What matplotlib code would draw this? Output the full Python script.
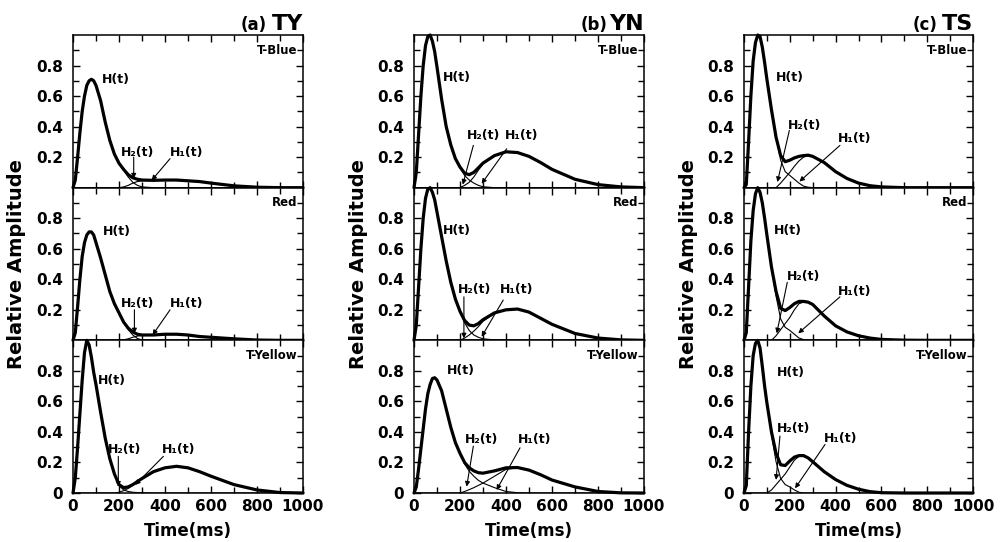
import matplotlib
matplotlib.use("Agg")
import matplotlib.pyplot as plt
import numpy as np
from matplotlib.ticker import FixedLocator, FuncFormatter, MultipleLocator

# sample times (ms)
t_ms = [0, 10, 20, 30, 40, 50, 60, 70, 80, 90, 100,
        120, 140, 160, 180, 200,
        220, 240, 260, 280, 300,
        350, 400, 450, 500, 550, 600,
        700, 800, 900, 1000]

# H2 = early component, H1 = late component, H(t) = H1(t) + H2(t)
# (a) TY
ty_blue_h2 = [0, .05, .20, .36, .50, .60, .67, .70, .71, .70, .67,
              .57, .43, .31, .22, .16,
              .115, .07, .035, .015, .005,
              0, 0, 0, 0, 0, 0,
              0, 0, 0, 0]
ty_blue_h1 = [0, 0, 0, 0, 0, 0, 0, 0, 0, 0, 0,
              0, 0, 0, 0, 0,
              .005, .015, .03, .04, .045,
              .048, .05, .05, .045, .04, .03,
              .012, .003, 0, 0]
ty_red_h2 = [0, .05, .22, .40, .55, .64, .69, .71, .71, .69, .64,
             .54, .43, .32, .24, .18,
             .117, .07, .035, .012, .003,
             0, 0, 0, 0, 0, 0,
             0, 0, 0, 0]
ty_red_h1 = [0, 0, 0, 0, 0, 0, 0, 0, 0, 0, 0,
             0, 0, 0, 0, 0,
             .003, .01, .02, .028, .032,
             .035, .04, .04, .035, .025, .02,
             .01, .002, 0, 0]
ty_yellow_h2 = [0, .10, .30, .52, .74, .92, 1.0, .97, .89, .79, .71,
                .53, .36, .225, .125, .05,
                .02, .01, .005, .003, .002,
                0, 0, 0, 0, 0, 0,
                0, 0, 0, 0]
ty_yellow_h1 = [0, 0, 0, 0, 0, 0, 0, 0, 0, 0, 0,
                0, 0, 0, 0, .005,
                .015, .03, .05, .072, .093,
                .14, .165, .175, .165, .14, .11,
                .055, .02, .003, 0]

# (b) YN
yn_blue_h2 = [0, .10, .35, .60, .80, .93, .99, 1.0, .96, .89, .79,
              .58, .40, .28, .19, .135,
              .08, .05, .03, .015, .006,
              0, 0, 0, 0, 0, 0,
              0, 0, 0, 0]
yn_blue_h1 = [0, 0, 0, 0, 0, 0, 0, 0, 0, 0, 0,
              0, 0, 0, 0, 0,
              .015, .035, .07, .115, .155,
              .21, .235, .23, .205, .165, .12,
              .055, .02, .005, 0]
yn_red_h2 = [0, .10, .35, .60, .80, .93, .99, 1.0, .97, .92, .84,
             .68, .52, .38, .27, .19,
             .115, .065, .035, .02, .01,
             .003, 0, 0, 0, 0, 0,
             0, 0, 0, 0]
yn_red_h1 = [0, 0, 0, 0, 0, 0, 0, 0, 0, 0, 0,
             0, 0, 0, 0, 0,
             .015, .035, .06, .09, .125,
             .177, .20, .205, .185, .145, .105,
             .045, .015, .003, 0]
yn_yellow_h2 = [0, .04, .16, .29, .42, .55, .65, .71, .75, .755, .74,
                .67, .55, .43, .33, .26,
                .19, .143, .11, .083, .065,
                .035, .01, .002, 0, 0, 0,
                0, 0, 0, 0]
yn_yellow_h1 = [0, 0, 0, 0, 0, 0, 0, 0, 0, 0, 0,
                0, 0, 0, 0, 0,
                .01, .022, .035, .05, .065,
                .11, .155, .165, .15, .12, .085,
                .04, .01, .001, 0]

# (c) TS
ts_blue_h2 = [0, .02, .30, .60, .83, .95, 1.0, .99, .92, .82, .71,
              .51, .33, .18, .105, .08,
              .055, .03, .01, .003, 0,
              0, 0, 0, 0, 0, 0,
              0, 0, 0, 0]
ts_blue_h1 = [0, 0, 0, 0, 0, 0, 0, 0, 0, 0, 0,
              0, 0, .03, .065, .10,
              .14, .175, .20, .21, .205,
              .165, .105, .06, .03, .013, .005,
              0, 0, 0, 0]
ts_red_h2 = [0, .05, .35, .65, .85, .96, 1.0, .97, .90, .80, .69,
             .48, .29, .14, .085, .065,
             .04, .015, .005, 0, 0,
             0, 0, 0, 0, 0, 0,
             0, 0, 0, 0]
ts_red_h1 = [0, 0, 0, 0, 0, 0, 0, 0, 0, 0, 0,
             0, .03, .07, .11, .15,
             .20, .24, .25, .25, .235,
             .16, .095, .055, .03, .015, .006,
             .001, 0, 0, 0]
ts_yellow_h2 = [0, .05, .40, .70, .90, .98, 1.0, .95, .83, .70, .59,
                .38, .205, .095, .055, .04,
                .02, .005, 0, 0, 0,
                0, 0, 0, 0, 0, 0,
                0, 0, 0, 0]
ts_yellow_h1 = [0, 0, 0, 0, 0, 0, 0, 0, 0, 0, 0,
                .02, .055, .09, .125, .17,
                .215, .24, .245, .23, .205,
                .14, .088, .05, .025, .009, .002,
                0, 0, 0, 0]

col_letters = ["(a)", "(b)", "(c)"]
col_names = ["TY", "YN", "TS"]
row_names = ["T-Blue", "Red", "T-Yellow"]

curves = [
    [(ty_blue_h2, ty_blue_h1), (ty_red_h2, ty_red_h1), (ty_yellow_h2, ty_yellow_h1)],
    [(yn_blue_h2, yn_blue_h1), (yn_red_h2, yn_red_h1), (yn_yellow_h2, yn_yellow_h1)],
    [(ts_blue_h2, ts_blue_h1), (ts_red_h2, ts_red_h1), (ts_yellow_h2, ts_yellow_h1)],
]

# label placement: H label (left, center), H2 label, H2 arrow (tail, tip), H1 label, H1 arrow
annot = [
    [
        ((125, .71), (280, .233), ((264, .20), (264, .06)), (494, .233), ((422, .19), (342, .048))),
        ((132, .71), (281, .24), ((267, .20), (267, .046)), (494, .24), ((422, .20), (346, .035))),
        ((110, .74), (226, .285), ((197, .24), (197, .042)), (458, .285), ((393, .24), (270, .053))),
    ],
    [
        ((125, .72), (301, .34), ((258, .277), (212, .02)), (468, .34), ((403, .255), (294, .026))),
        ((125, .72), (265, .33), ((217, .285), (217, .013)), (446, .33), ((388, .264), (294, .024))),
        ((145, .80), (294, .35), ((258, .307), (229, .042)), (526, .35), ((461, .296), (359, .02))),
    ],
    [
        ((140, .72), (266, .41), ((198, .375), (146, .037)), (485, .325), ((419, .277), (242, .04))),
        ((132, .72), (259, .416), ((189, .38), (143, .046)), (485, .322), ((419, .285), (237, .046))),
        ((143, .79), (218, .42), ((157, .373), (140, .086)), (422, .36), ((354, .318), (223, .031))),
    ],
]

W, H = 1001, 542
COL_LEFT = [73, 414, 744]
COL_WIDTH = [230, 230, 229]
TOP = 35
ROW_H = 152.67


def fmt_y(v, _pos):
    return "0" if abs(v) < 1e-9 else f"{v:.1f}"


def add_panel(fig, col, row):
    left = COL_LEFT[col] / W
    bottom = 1 - (TOP + (row + 1) * ROW_H) / H
    ax = fig.add_axes([left, bottom, COL_WIDTH[col] / W, ROW_H / H])

    h2, h1 = curves[col][row]
    t = np.array(t_ms, dtype=float)
    h2 = np.array(h2)
    h1 = np.array(h1)
    ax.plot(t, h2, color="black", lw=0.8, zorder=2)
    ax.plot(t, h1, color="black", lw=0.8, zorder=2)
    ax.plot(t, h1 + h2, color="black", lw=2.3, zorder=3, clip_on=False,
            solid_joinstyle="round", solid_capstyle="round")

    ax.set_xlim(0, 1000)
    ax.set_ylim(0, 1.0)
    ax.xaxis.set_major_locator(MultipleLocator(200))
    ax.xaxis.set_minor_locator(MultipleLocator(100))
    yt = [0.2, 0.4, 0.6, 0.8] if row < 2 else [0, 0.2, 0.4, 0.6, 0.8]
    ax.yaxis.set_major_locator(FixedLocator(yt))
    ax.yaxis.set_minor_locator(FixedLocator([0.1, 0.3, 0.5, 0.7, 0.9]))
    ax.yaxis.set_major_formatter(FuncFormatter(fmt_y))
    ax.tick_params(which="both", direction="in", top=True, right=True, width=1.0)
    ax.tick_params(which="major", length=5)
    ax.tick_params(which="minor", length=4)
    ax.tick_params(axis="y", pad=7, labelsize=11)
    ax.tick_params(axis="x", pad=4, labelsize=11, labelbottom=(row == 2))
    for lab in ax.get_xticklabels() + ax.get_yticklabels():
        lab.set_fontweight("bold")
    for sp in ax.spines.values():
        sp.set_linewidth(1.1)

    ax.text(0.977, 0.9, row_names[row], transform=ax.get_yaxis_transform(),
            ha="right", va="center", fontsize=8.5, fontweight="bold")

    h_lab, h2_lab, h2_arr, h1_lab, h1_arr = annot[col][row]
    ax.text(h_lab[0], h_lab[1], "H(t)", ha="left", va="center",
            fontsize=9, fontweight="bold")
    ax.text(h2_lab[0], h2_lab[1], "H\u2082(t)", ha="center", va="center",
            fontsize=9, fontweight="bold")
    ax.text(h1_lab[0], h1_lab[1], "H\u2081(t)", ha="center", va="center",
            fontsize=9, fontweight="bold")
    for tail, tip in (h2_arr, h1_arr):
        ax.annotate("", xy=tip, xytext=tail,
                    arrowprops=dict(arrowstyle="-|>", color="black", lw=0.8,
                                    mutation_scale=7, shrinkA=0, shrinkB=0))
    return ax


def main():
    plt.rcParams["font.family"] = ["DejaVu Sans"]
    fig = plt.figure(figsize=(W / 100, H / 100), dpi=100)

    for col in range(3):
        for row in range(3):
            add_panel(fig, col, row)

        right = COL_LEFT[col] + COL_WIDTH[col]
        fig.text(right / W, 1 - 29.5 / H, col_names[col], ha="right", va="baseline",
                 fontsize=16, fontweight="bold")
        fig.text((right - 36) / W, 1 - 29.5 / H, col_letters[col], ha="right",
                 va="baseline", fontsize=12, fontweight="bold")
        fig.text((COL_LEFT[col] - 56) / W, 1 - 264 / H, "Relative Amplitude",
                 rotation=90, ha="center", va="center", fontsize=14, fontweight="bold")
        fig.text((COL_LEFT[col] + COL_WIDTH[col] / 2) / W, 1 - 531 / H, "Time(ms)",
                 ha="center", va="center", fontsize=12, fontweight="bold")

    fig.savefig("out.png", dpi=100, facecolor="white")


if __name__ == "__main__":
    main()
